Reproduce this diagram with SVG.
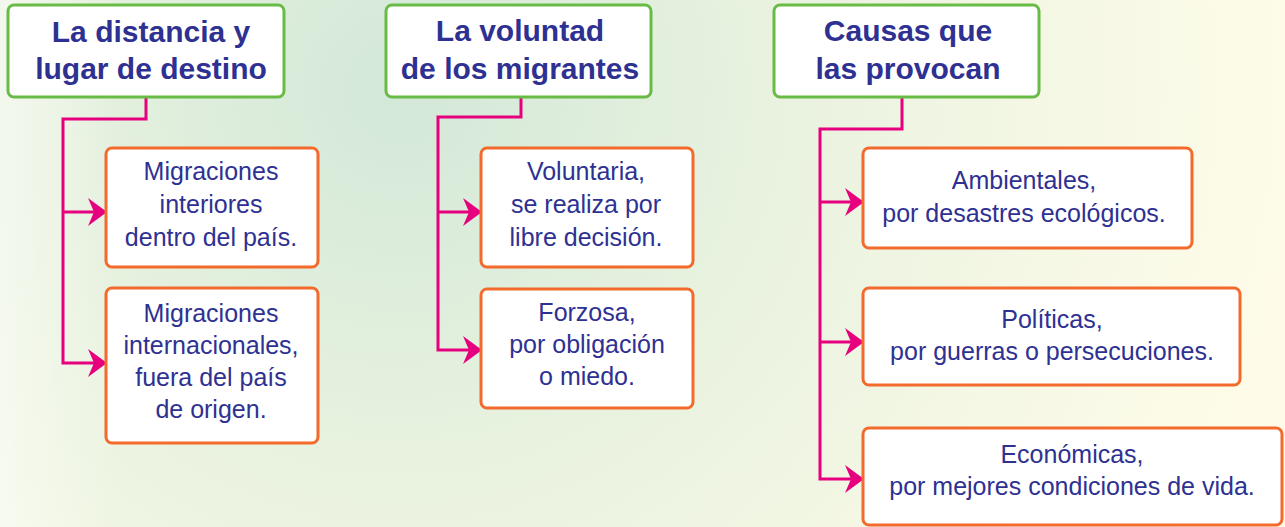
<svg xmlns="http://www.w3.org/2000/svg" width="1285" height="527" viewBox="0 0 1285 527">
<defs>
<radialGradient id="bg" cx="400" cy="90" r="900" gradientUnits="userSpaceOnUse">
<stop offset="0" stop-color="#d3e8d8"/>
<stop offset="0.45" stop-color="#eaf3e0"/>
<stop offset="1" stop-color="#fefce9"/>
</radialGradient>
<linearGradient id="leftfade" x1="0" y1="0" x2="1" y2="0">
<stop offset="0" stop-color="#ffffff" stop-opacity="0.45"/>
<stop offset="1" stop-color="#ffffff" stop-opacity="0"/>
</linearGradient>
<marker id="arr" viewBox="0 0 20 28" refX="19" refY="14" markerWidth="20" markerHeight="28" markerUnits="userSpaceOnUse" orient="auto">
<path d="M20,14 L1,0 L7,14 L1,28 Z" fill="#e6007e"/>
</marker>
<style>
.hdr rect{fill:#ffffff;stroke:#68bb45;stroke-width:3}
.sub rect{fill:#ffffff;stroke:#f26b2c;stroke-width:3}
.hdr text{font-family:"Liberation Sans",Arial,sans-serif;font-weight:bold;font-size:30px;fill:#2e3192;text-anchor:middle}
.sub text{font-family:"Liberation Sans",Arial,sans-serif;font-size:25px;fill:#2e3192;text-anchor:middle}
#connectors path{fill:none;stroke:#e6007e;stroke-width:3}
</style>
</defs>
<rect x="0" y="0" width="1285" height="527" fill="url(#bg)"/>
<rect x="0" y="0" width="120" height="527" fill="url(#leftfade)"/>

<g id="connectors">
<path d="M146,97 V119 H63 V363 H106" marker-end="url(#arr)"/>
<path d="M63,212 H106" marker-end="url(#arr)"/>
<path d="M521,97 V117 H438 V350 H481" marker-end="url(#arr)"/>
<path d="M438,212 H481" marker-end="url(#arr)"/>
<path d="M902,97 V129 H820 V479 H863" marker-end="url(#arr)"/>
<path d="M820,202 H863" marker-end="url(#arr)"/>
<path d="M820,342 H863" marker-end="url(#arr)"/>
</g>

<g id="h1" class="hdr">
<rect x="8" y="5" width="276" height="92" rx="6"/>
<text x="151" y="42">La distancia y</text>
<text x="151" y="79">lugar de destino</text>
</g>
<g id="h2" class="hdr">
<rect x="386" y="5" width="265" height="92" rx="6"/>
<text x="520" y="41">La voluntad</text>
<text x="520" y="79">de los migrantes</text>
</g>
<g id="h3" class="hdr">
<rect x="774" y="5" width="265" height="92" rx="6"/>
<text x="908" y="41">Causas que</text>
<text x="908" y="79">las provocan</text>
</g>

<g id="n1a" class="sub">
<rect x="106" y="148" width="212" height="119" rx="6"/>
<text x="211" y="180">Migraciones</text>
<text x="211" y="213">interiores</text>
<text x="211" y="246">dentro del país.</text>
</g>
<g id="n1b" class="sub">
<rect x="106" y="288" width="212" height="155" rx="6"/>
<text x="211" y="322">Migraciones</text>
<text x="211" y="354">internacionales,</text>
<text x="211" y="386">fuera del país</text>
<text x="211" y="418">de origen.</text>
</g>

<g id="n2a" class="sub">
<rect x="481" y="148" width="212" height="119" rx="6"/>
<text x="586" y="180">Voluntaria,</text>
<text x="586" y="213">se realiza por</text>
<text x="586" y="246">libre decisión.</text>
</g>
<g id="n2b" class="sub">
<rect x="481" y="289" width="212" height="119" rx="6"/>
<text x="587" y="321">Forzosa,</text>
<text x="587" y="353">por obligación</text>
<text x="587" y="385">o miedo.</text>
</g>

<g id="n3a" class="sub">
<rect x="863" y="148" width="329" height="100" rx="6"/>
<text x="1024" y="189">Ambientales,</text>
<text x="1024" y="222">por desastres ecológicos.</text>
</g>
<g id="n3b" class="sub">
<rect x="863" y="288" width="377" height="97" rx="6"/>
<text x="1052" y="328">Políticas,</text>
<text x="1052" y="360">por guerras o persecuciones.</text>
</g>
<g id="n3c" class="sub">
<rect x="863" y="428" width="419" height="97" rx="6"/>
<text x="1072" y="463">Económicas,</text>
<text x="1072" y="495">por mejores condiciones de vida.</text>
</g>
</svg>
